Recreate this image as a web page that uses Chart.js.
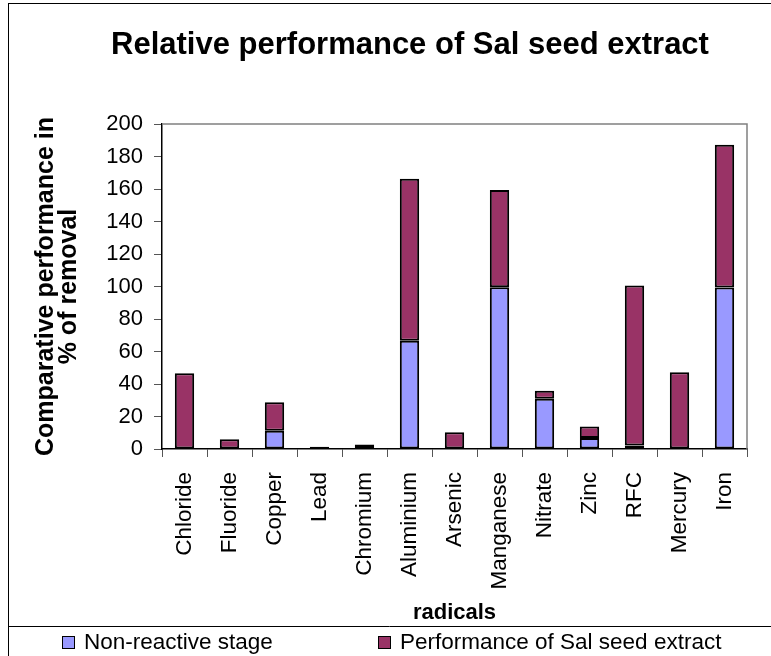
<!DOCTYPE html>
<html>
<head>
<meta charset="utf-8">
<script src="https://cdn.jsdelivr.net/npm/chart.js@4.4.1/dist/chart.umd.min.js"></script>
<style>
  body { margin: 0; background: #fff; }
  #wrap { width: 771px; height: 656px; }
</style>
</head>
<body>
<div id="wrap"><canvas id="myChart" width="771" height="656"></canvas></div>
<script>
// chart data
const radicals = ["Chloride", "Fluoride", "Copper", "Lead", "Chromium", "Aluminium",
                  "Arsenic", "Manganese", "Nitrate", "Zinc", "RFC", "Mercury", "Iron"];
const nonReactive = [0, 0, 11.3, 0, 0, 66.6, 0, 99.5, 31, 6.7, 2.2, 0, 99.4];
const salSeed = [46.6, 6, 17.4, 1.4, 2.7, 99.7, 10.3, 59.9, 4.9, 7.2, 98.4, 47.2, 87.8];
const yTicks = [0, 20, 40, 60, 80, 100, 120, 140, 160, 180, 200];

const chartTitle = "Relative performance of Sal seed extract";
const fontFamily = '"Liberation Sans", Arial, sans-serif';

Chart.defaults.font.family = fontFamily;
Chart.defaults.color = "#000";

// empty segments are not drawn (no border line on the axis)
function segment(values) {
  return values.map(v => (v === 0 ? null : v));
}

// frame, title, plot border and legend are drawn here
const framePlugin = {
  id: "frame",
  beforeDraw(chart) {
    const c = chart.ctx;
    c.save();
    c.fillStyle = "#fff";
    c.fillRect(0, 0, chart.width, chart.height);
    c.restore();
  },
  afterDraw(chart) {
    const c = chart.ctx;
    const area = chart.chartArea;
    c.save();
    // outer border
    c.strokeStyle = "#000";
    c.lineWidth = 1;
    c.strokeRect(8.5, 3.5, 900, 900);
    c.beginPath();
    c.moveTo(8, 626.5);
    c.lineTo(chart.width, 626.5);
    c.stroke();

    // plot area top and right edges
    c.strokeStyle = "#808080";
    c.lineWidth = 1.5;
    c.beginPath();
    c.moveTo(area.left, area.top);
    c.lineTo(area.right, area.top);
    c.lineTo(area.right, area.bottom);
    c.stroke();

    // title
    c.fillStyle = "#000";
    c.font = "bold 31px " + fontFamily;
    c.textAlign = "center";
    c.textBaseline = "alphabetic";
    c.fillText(chartTitle, 410, 54);

    // legend
    const legendX = [62, 378];
    c.font = "22.5px " + fontFamily;
    c.textAlign = "left";
    chart.data.datasets.forEach((ds, i) => {
      c.fillStyle = ds.backgroundColor;
      c.fillRect(legendX[i] + 0.5, 636.5, 12, 12);
      c.strokeStyle = "#000";
      c.lineWidth = 1;
      c.strokeRect(legendX[i] + 0.5, 636.5, 12, 12);
      c.fillStyle = "#000";
      c.fillText(ds.label, legendX[i] + 22, 649);
    });
    c.restore();
  }
};

const ctx = document.getElementById("myChart").getContext("2d");
const myChart = new Chart(ctx, {
  type: "bar",
  data: {
    labels: radicals,
    datasets: [
      {
        label: "Non-reactive stage",
        data: segment(nonReactive),
        backgroundColor: "#9999FF",
        borderColor: "#000",
        borderWidth: 2,
        borderSkipped: false,
        barPercentage: 0.43,
        categoryPercentage: 1
      },
      {
        label: "Performance of Sal seed extract",
        data: segment(salSeed),
        backgroundColor: "#993366",
        borderColor: "#000",
        borderWidth: 2,
        borderSkipped: false,
        barPercentage: 0.43,
        categoryPercentage: 1
      }
    ]
  },
  options: {
    responsive: false,
    animation: false,
    layout: {
      padding: { left: 0, right: 24, top: 124, bottom: 30 }
    },
    plugins: {
      legend: { display: false },
      title: { display: false },
      tooltip: { enabled: false }
    },
    scales: {
      x: {
        stacked: true,
        grid: {
          drawOnChartArea: false,
          drawTicks: true,
          tickLength: 8,
          color: "#555",
          offset: true
        },
        border: { display: true, color: "#000", width: 1.5 },
        ticks: {
          autoSkip: false,
          maxRotation: 90,
          minRotation: 90,
          padding: 15,
          font: { size: 22.5 }
        },
        title: {
          display: true,
          text: "radicals",
          font: { size: 22, weight: "bold" },
          padding: { top: 0, bottom: 0 }
        },
        afterFit(scale) {
          scale.height = 177;
        }
      },
      y: {
        stacked: true,
        min: 0,
        max: 200,
        afterBuildTicks(scale) {
          scale.ticks = yTicks.map(v => ({ value: v }));
        },
        grid: {
          drawOnChartArea: false,
          drawTicks: true,
          tickLength: 8,
          color: "#555"
        },
        border: { display: true, color: "#000", width: 1.5 },
        ticks: {
          padding: 11,
          font: { size: 22 }
        },
        title: {
          display: true,
          text: ["Comparative performance in", "% of removal"],
          font: { size: 25, weight: "bold", lineHeight: 0.92 },
          padding: { top: 35, bottom: 0 }
        },
        afterFit(scale) {
          scale.width = 162;
        }
      }
    }
  },
  plugins: [framePlugin]
});
</script>
</body>
</html>
